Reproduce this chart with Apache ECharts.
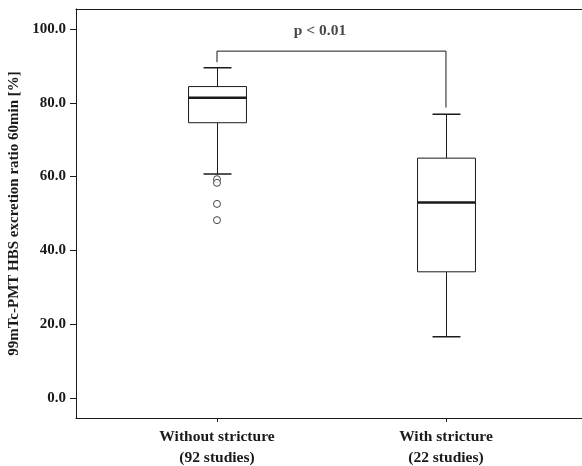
<!DOCTYPE html>
<html>
<head>
<meta charset="utf-8">
<script src="https://cdn.jsdelivr.net/npm/echarts@6/dist/echarts.min.js"></script>
<style>
  html, body { margin: 0; padding: 0; background: #fff; }
  #chart { width: 582px; height: 466px; }
</style>
</head>
<body>
<div id="chart"></div>
<script>
// Groups, positioned at 1 and 2 along the horizontal axis
const categories = ['Without stricture\n(92 studies)', 'With stricture\n(22 studies)'];
const groupPositions = [1, 2];

// Five-number summaries: [lower whisker, Q1, median, Q3, upper whisker]
const withoutStricture = [60.7, 74.6, 81.4, 84.4, 89.5];
const withStricture = [16.6, 34.2, 53.0, 65.0, 76.9];

// Outliers of the "without stricture" group
const outliersWithout = [59.3, 58.3, 52.6, 48.2];

// Significance bracket: left leg end, bar height, right leg end
const bracketLevels = [91.0, 94.0, 78.7];
const pLabel = 'p < 0.01';

// Y-axis tick values
const yTicks = [0, 20, 40, 60, 80, 100];

const serif = '"Liberation Serif", "DejaVu Serif", serif';
const ink = '#1a1a1a';

const boxData = [
  [groupPositions[0]].concat(withoutStricture),
  [groupPositions[1]].concat(withStricture)
];
const outlierData = outliersWithout.map(v => [groupPositions[0], v]);
const bracketData = [
  [groupPositions[0], bracketLevels[0]],
  [groupPositions[0], bracketLevels[1]],
  [groupPositions[1], bracketLevels[1]],
  [groupPositions[1], bracketLevels[2]]
];

const BOX_W = 0.253;   // box width in axis units
const CAP_W = 0.122;   // whisker cap width in axis units

function renderBox(params, api) {
  const x = api.value(0);
  const low = api.coord([x, api.value(1)]);
  const q1 = api.coord([x, api.value(2)]);
  const med = api.coord([x, api.value(3)]);
  const q3 = api.coord([x, api.value(4)]);
  const high = api.coord([x, api.value(5)]);
  const halfBox = api.size([BOX_W, 0])[0] / 2;
  const halfCap = api.size([CAP_W, 0])[0] / 2;
  const cx = Math.round(low[0]) + 0.5;
  const line = (x1, y1, x2, y2, w) => ({
    type: 'line',
    shape: { x1, y1, x2, y2 },
    style: { stroke: ink, lineWidth: w || 1 }
  });
  return {
    type: 'group',
    children: [
      line(cx, high[1], cx, q3[1]),
      line(cx, q1[1], cx, low[1]),
      line(cx - halfCap, high[1], cx + halfCap, high[1], 1.5),
      line(cx - halfCap, low[1], cx + halfCap, low[1], 1.5),
      {
        type: 'rect',
        shape: { x: cx - halfBox, y: q3[1], width: halfBox * 2, height: q1[1] - q3[1] },
        style: { fill: '#fff', stroke: ink, lineWidth: 1 }
      },
      line(cx - halfBox, med[1], cx + halfBox, med[1], 2.5)
    ]
  };
}

const chart = echarts.init(document.getElementById('chart'));
chart.setOption({
  backgroundColor: '#fff',
  animation: false,
  grid: { left: 76, right: 0, top: 9, bottom: 48, containLabel: false, outerBoundsMode: 'none' },
  xAxis: [
    {
      type: 'value',
      min: 0.3843,
      max: 2.594,
      splitLine: { show: false },
      axisLine: { show: true, onZero: false, lineStyle: { color: ink, width: 1 } },
      axisTick: { show: true, customValues: groupPositions, length: 4, lineStyle: { color: ink } },
      axisLabel: {
        show: true,
        customValues: groupPositions,
        formatter: v => categories[groupPositions.indexOf(Math.round(v))] || '',
        fontFamily: serif,
        fontWeight: 'bold',
        fontSize: 15.5,
        lineHeight: 21,
        color: ink,
        margin: 8
      }
    },
    {
      type: 'value',
      position: 'top',
      min: 0.3843,
      max: 2.594,
      splitLine: { show: false },
      axisLine: { show: true, onZero: false, lineStyle: { color: ink, width: 1 } },
      axisTick: { show: false },
      axisLabel: { show: false }
    }
  ],
  yAxis: {
    type: 'value',
    min: -5.42,
    max: 105.42,
    name: '99mTc-PMT HBS excretion ratio 60min [%]',
    nameLocation: 'middle',
    nameGap: 51,
    nameTextStyle: { fontFamily: serif, fontWeight: 'bold', fontSize: 15, color: ink },
    splitLine: { show: false },
    axisLine: { show: true, onZero: false, lineStyle: { color: ink, width: 1 } },
    axisTick: { show: true, customValues: yTicks, length: 6, lineStyle: { color: ink } },
    axisLabel: {
      customValues: yTicks,
      formatter: v => v.toFixed(1),
      fontFamily: serif,
      fontWeight: 'bold',
      fontSize: 15,
      color: ink,
      margin: 10
    }
  },
  series: [
    {
      type: 'line',
      data: bracketData,
      symbol: 'none',
      lineStyle: { color: ink, width: 1 },
      z: 1
    },
    {
      type: 'custom',
      data: boxData,
      renderItem: renderBox,
      encode: { x: 0, y: [1, 2, 3, 4, 5] },
      z: 2
    },
    {
      type: 'scatter',
      data: outlierData,
      symbol: 'circle',
      symbolSize: 7,
      itemStyle: { color: '#fff', borderColor: ink, borderWidth: 1 },
      z: 3
    },
    {
      type: 'scatter',
      data: [[1.45, 99.5]],
      symbolSize: 0,
      silent: true,
      label: {
        show: true,
        position: 'inside',
        formatter: pLabel,
        fontFamily: serif,
        fontWeight: 'bold',
        fontSize: 15.5,
        color: ink
      }
    }
  ]
});
</script>
</body>
</html>
